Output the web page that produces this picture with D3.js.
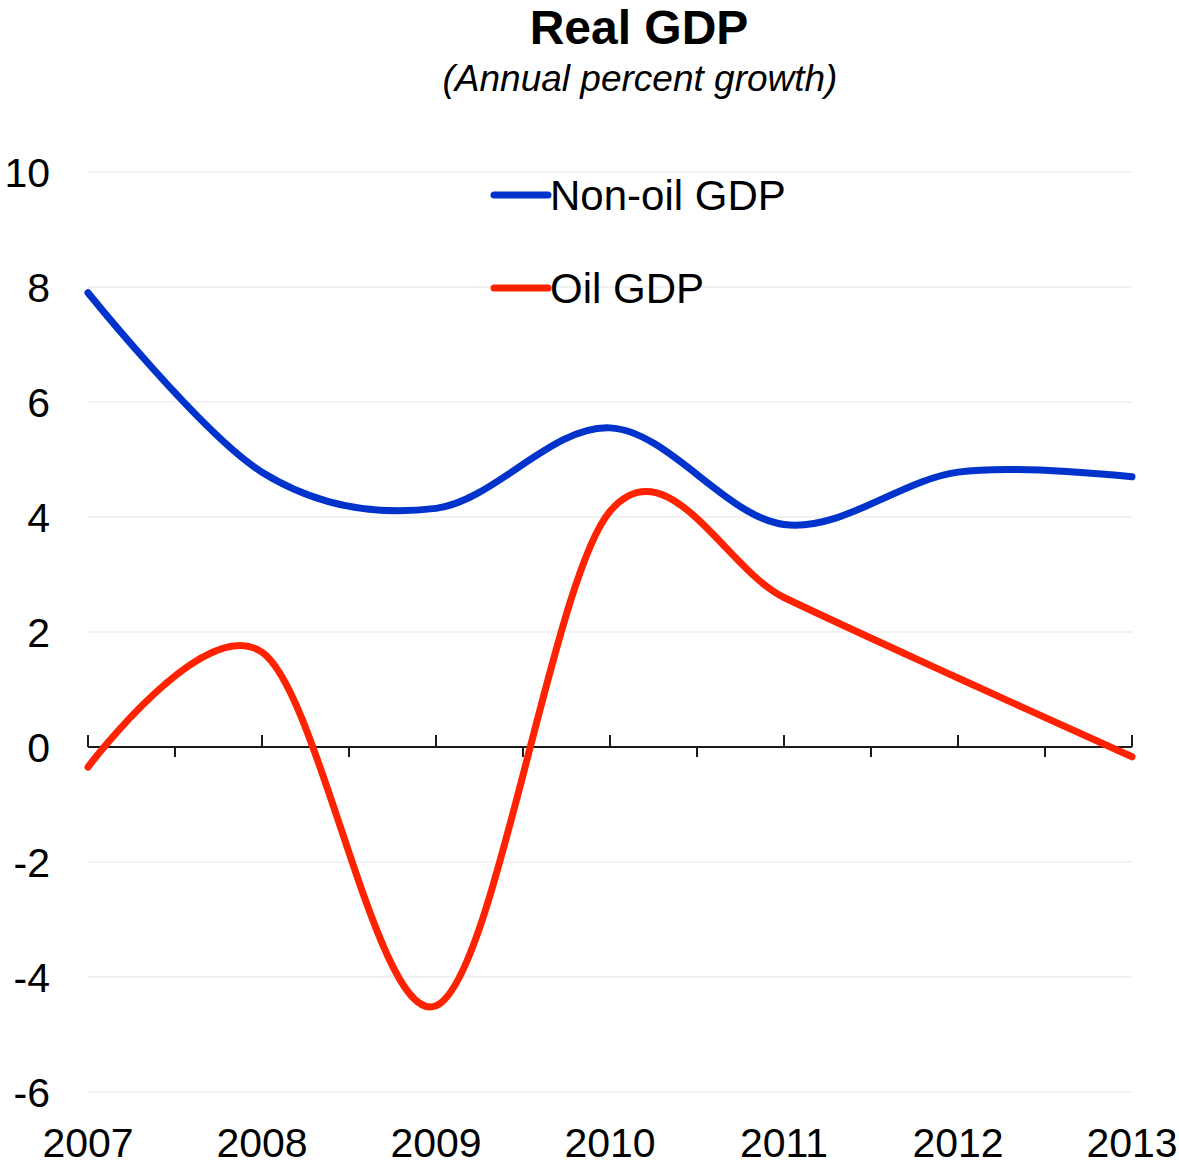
<!DOCTYPE html>
<html>
<head>
<meta charset="utf-8">
<script src="https://cdn.jsdelivr.net/npm/d3@7"></script>
<style>
  body { margin: 0; background: #fff; }
  text { font-family: "Liberation Sans", Arial, sans-serif; fill: #000; }
</style>
</head>
<body>
<svg width="1179" height="1167"></svg>
<script>
const years = [2007, 2008, 2009, 2010, 2011, 2012, 2013];
const nonOil = [7.9, 4.78, 4.15, 5.55, 3.87, 4.78, 4.7];
const oil = [-0.35, 1.65, -4.5, 4.1, 2.6, 1.2, -0.17];
const yTicks = [-6, -4, -2, 0, 2, 4, 6, 8, 10];
const seriesNames = ["Non-oil GDP", "Oil GDP"];
const seriesColors = ["#0033cc", "#ff2200"];

const svg = d3.select("svg");

const x = d3.scaleLinear()
  .domain([2007, 2013])
  .range([88, 1132]);

const y = d3.scaleLinear()
  .domain([-6, 10])
  .range([1092, 172]);

// title
svg.append("text")
  .attr("x", 639)
  .attr("y", 44)
  .attr("text-anchor", "middle")
  .attr("font-size", 48)
  .attr("font-weight", "bold")
  .text("Real GDP");

svg.append("text")
  .attr("x", 640)
  .attr("y", 91)
  .attr("text-anchor", "middle")
  .attr("font-size", 37)
  .attr("font-style", "italic")
  .text("(Annual percent growth)");

// gridlines
svg.append("g")
  .selectAll("line")
  .data(yTicks.filter(d => d !== 0))
  .enter().append("line")
  .attr("x1", x(2007))
  .attr("x2", x(2013))
  .attr("y1", d => y(d))
  .attr("y2", d => y(d))
  .attr("stroke", "#f2f2f2")
  .attr("stroke-width", 2);

// y labels
svg.append("g")
  .selectAll("text")
  .data(yTicks)
  .enter().append("text")
  .attr("x", 50)
  .attr("y", d => y(d))
  .attr("dy", "0.36em")
  .attr("text-anchor", "end")
  .attr("font-size", 41)
  .text(d => d);

// zero axis with ticks: years up, mid-years down
const axis = svg.append("g");
axis.append("line")
  .attr("x1", x(2007))
  .attr("x2", x(2013))
  .attr("y1", y(0))
  .attr("y2", y(0))
  .attr("stroke", "#1a1a1a")
  .attr("stroke-width", 2);

axis.selectAll(".major")
  .data(years)
  .enter().append("line")
  .attr("class", "major")
  .attr("x1", d => x(d))
  .attr("x2", d => x(d))
  .attr("y1", y(0))
  .attr("y2", y(0) - 12)
  .attr("stroke", "#1a1a1a")
  .attr("stroke-width", 2);

axis.selectAll(".minor")
  .data(years.slice(0, -1).map(d => d + 0.5))
  .enter().append("line")
  .attr("class", "minor")
  .attr("x1", d => x(d))
  .attr("x2", d => x(d))
  .attr("y1", y(0))
  .attr("y2", y(0) + 10)
  .attr("stroke", "#1a1a1a")
  .attr("stroke-width", 2);

// x labels
svg.append("g")
  .selectAll("text")
  .data(years)
  .enter().append("text")
  .attr("x", d => x(d))
  .attr("y", 1157)
  .attr("text-anchor", "middle")
  .attr("font-size", 41)
  .text(d => d);

// lines
const line = d3.line()
  .x((d, i) => x(years[i]))
  .y(d => y(d))
  .curve(d3.curveCatmullRom.alpha(0));

[nonOil, oil].forEach((s, i) => {
  svg.append("path")
    .datum(s)
    .attr("fill", "none")
    .attr("stroke", seriesColors[i])
    .attr("stroke-width", 7)
    .attr("stroke-linecap", "round")
    .attr("d", line);
});

// legend
const legend = svg.append("g")
  .selectAll("g")
  .data(seriesNames)
  .enter().append("g")
  .attr("transform", (d, i) => `translate(494, ${195 + i * 93})`);

legend.append("line")
  .attr("x1", 0)
  .attr("x2", 54)
  .attr("stroke", (d, i) => seriesColors[i])
  .attr("stroke-width", 7)
  .attr("stroke-linecap", "round");

legend.append("text")
  .attr("x", 56)
  .attr("dy", "0.36em")
  .attr("font-size", 42)
  .text(d => d);
</script>
</body>
</html>
